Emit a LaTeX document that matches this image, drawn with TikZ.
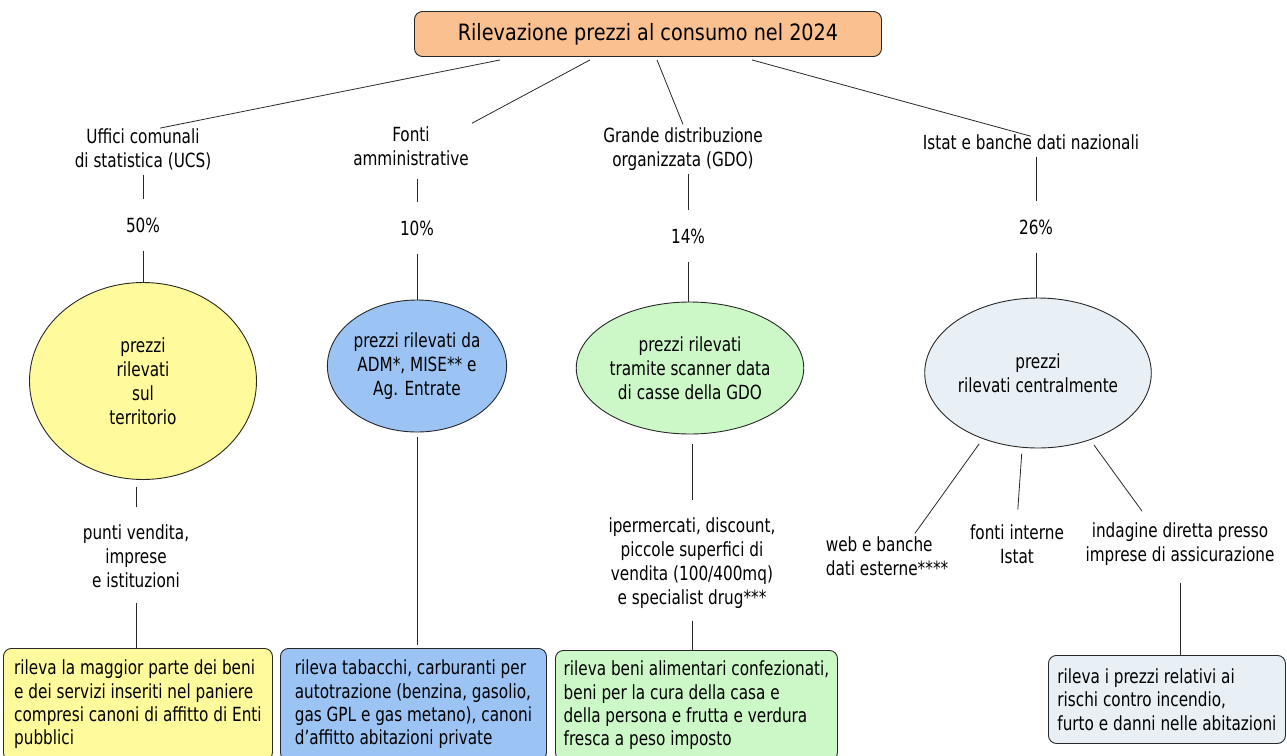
\documentclass[tikz,border=0pt]{standalone}
\usepackage{fontspec}
\setmainfont{DejaVu Sans Condensed}[FakeStretch=0.87]
\newfontfamily\titlefont{DejaVu Sans Condensed}[FakeStretch=0.95]
\usetikzlibrary{shapes.geometric}
\definecolor{cOrange}{RGB}{250,192,143}
\definecolor{cYellow}{RGB}{255,250,156}
\definecolor{cBlue}{RGB}{155,196,245}
\definecolor{cGreen}{RGB}{204,248,200}
\definecolor{cGrey}{RGB}{232,240,246}
\definecolor{cLine}{RGB}{40,40,40}
\tikzset{
  txt/.style={font=\fontsize{19.5}{24}\selectfont, align=center, inner sep=3pt, text=black},
  pct/.style={font=\fontsize{19.5}{24}\selectfont, inner xsep=3pt, inner ysep=18pt},
  ell/.style={ellipse, draw=cLine, line width=0.9pt, inner sep=0pt, align=center,
              font=\fontsize{19.5}{24}\selectfont},
  leafbox/.style={draw=cLine, line width=0.9pt, rounded corners=8pt, anchor=north west,
              align=left, inner xsep=4pt, inner ysep=0pt,
              font=\fontsize{19.5}{23.4}\selectfont},
  conn/.style={draw=cLine, line width=0.8pt},
}
\begin{document}
\begin{tikzpicture}[x=1pt,y=-1pt]
\useasboundingbox (0,0) rectangle (1287,755);
\fill[white] (0,0) rectangle (1287,755);

% title
\node[draw=cLine, line width=0.9pt, fill=cOrange, rounded corners=8pt,
      minimum width=467pt, minimum height=45pt, inner sep=0pt,
      font=\titlefont\fontsize{22.5}{27}\selectfont] (title) at (648,34) {Rilevazione prezzi al consumo nel 2024};

% second level labels
\node[txt] (ucs)   at (143,149) {Uffici comunali\\di statistica (UCS)};
\node[txt] (fonti) at (411,146) {Fonti\\amministrative};
\node[txt] (gdo)   at (683,149) {Grande distribuzione\\organizzata (GDO)};
\node[txt] (istat) at (1031,142) {Istat e banche dati nazionali};

% percentages
\node[pct] (p50) at (143,225) {50\%};
\node[pct] (p10) at (417,228) {10\%};
\node[pct] (p14) at (688,236) {14\%};
\node[pct] (p26) at (1036,227) {26\%};

% ellipses
\node[ell, fill=cYellow, minimum width=227pt, minimum height=197pt] (eY) at (143,381)
  {\raisebox{0pt}{}prezzi\\rilevati\\sul\\territorio};
\node[ell, fill=cBlue, minimum width=168pt, minimum height=132pt] (eB) at (417,366)
  {prezzi rilevati da\\ADM*, MISE** e\\Ag. Entrate};
\node[ell, fill=cGreen, minimum width=195pt, minimum height=132pt] (eG) at (690,368)
  {prezzi rilevati\\tramite scanner data\\di casse della GDO};
\node[ell, fill=cGrey, minimum width=200pt, minimum height=150pt] (eS) at (1038,373)
  {prezzi\\rilevati centralmente};

% third level labels
\node[txt] (punti) at (136,556) {punti vendita,\\imprese\\e istituzioni};
\node[txt] (gdol)  at (692,563) {ipermercati, discount,\\piccole superfici di\\vendita (100/400mq)\\e specialist drug***};
\node[txt, align=left] (web) at (887,556) {web e banche\\dati esterne****};
\node[txt] (fint)  at (1017,544) {fonti interne\\Istat};
\node[txt] (indag) at (1180,544) {indagine diretta presso\\imprese di assicurazione};

% leaf boxes
\node[leafbox, fill=cYellow, minimum width=269pt, minimum height=112pt] (bY) at (3,648)
  {rileva la maggior parte dei beni\\e dei servizi inseriti nel paniere\\compresi canoni di affitto di Enti\\pubblici};
\node[leafbox, fill=cBlue, minimum width=266pt, minimum height=112pt] (bB) at (280,648)
  {rileva tabacchi, carburanti per\\autotrazione (benzina, gasolio,\\gas GPL e gas metano), canoni\\d'affitto abitazioni private};
\node[leafbox, fill=cGreen, minimum width=282pt, minimum height=110pt] (bG) at (555,650)
  {rileva beni alimentari confezionati,\\beni per la cura della casa e\\della persona e frutta e verdura\\fresca a peso imposto};
\node[leafbox, fill=cGrey, minimum width=237pt, minimum height=88pt] (bS) at (1048,655)
  {rileva i prezzi relativi ai\\rischi contro incendio,\\furto e danni nelle abitazioni};

% connectors from title
\draw[conn] ([xshift=-148pt, yshift=-3pt]title.south) -- ([xshift=17pt, yshift=-3pt]ucs.north);
\draw[conn] ([xshift=-58pt, yshift=-3pt]title.south) -- (fonti.north east);
\draw[conn] ([xshift=9pt, yshift=-3pt]title.south) -- (gdo.north);
\draw[conn] ([xshift=104pt, yshift=-3pt]title.south) -- ([yshift=-5pt]istat.north);

% label -> percentage
\draw[conn, shorten <=2pt] (ucs.south -| p50.north) -- (p50.north);
\draw[conn, shorten <=10pt] (fonti.south -| p10.north) -- (p10.north);
\draw[conn] (gdo.south -| p14.north) -- (p14.north);
\draw[conn, shorten <=4pt] (istat.south -| p26.north) -- (p26.north);

% percentage -> ellipse
\draw[conn] (p50.south) -- (p50.south |- eY.north);
\draw[conn] (p10.south) -- (p10.south |- eB.north);
\draw[conn] (p14.south) -- (p14.south |- eG.north);
\draw[conn] (p26.south) -- (p26.south |- eS.north);

% ellipse -> third level
\draw[conn, shorten <=7pt, shorten >=14pt] (eY.south -| punti.north) -- (punti.north);
\draw[conn, shorten <=12pt] (punti.south) -- (punti.south |- bY.north);
\draw[conn, shorten <=5pt, shorten >=3pt] (eB.south) -- (eB.south |- bB.north);
\draw[conn, shorten <=10pt, shorten >=14pt] (eG.south -| gdol.north) -- (gdol.north);
\draw[conn, shorten <=9pt] (gdol.south) -- (gdol.south |- bG.north);
\draw[conn, shorten <=6pt] (eS.230.4) -- ([xshift=28pt]web.north);
\draw[conn, shorten <=6pt, shorten >=12pt] (eS.258) -- (fint.north);
\draw[conn, shorten <=6pt, shorten >=10pt] (eS.308.6) -- ([xshift=-32pt]indag.north);
\draw[conn, shorten <=14pt] (indag.south) -- (indag.south |- bS.north);
\end{tikzpicture}
\end{document}
